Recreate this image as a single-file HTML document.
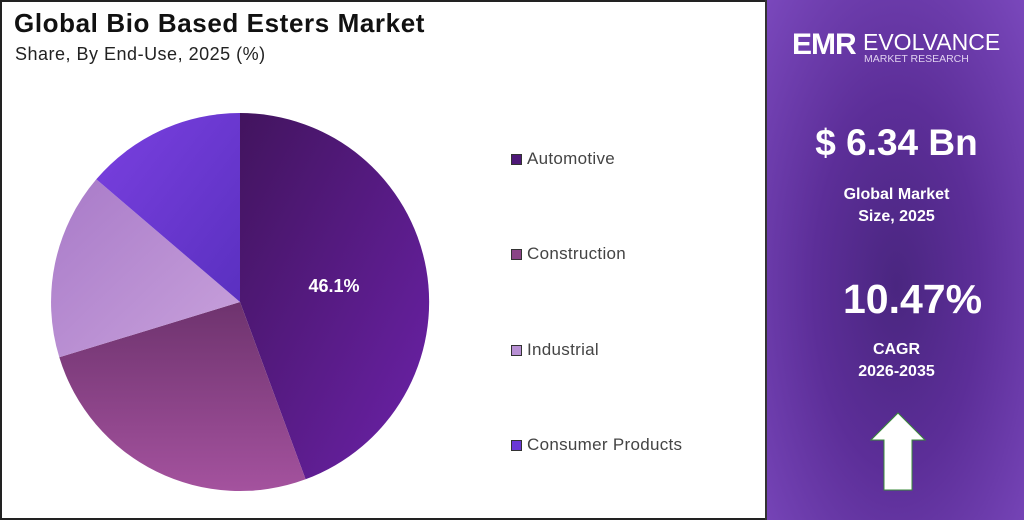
<!DOCTYPE html>
<html><head><meta charset="utf-8"><style>
body{margin:0;width:1024px;height:520px;overflow:hidden;background:#fff;font-family:"Liberation Sans",sans-serif;position:relative}
.frame{position:absolute;left:0;top:0;width:1020px;height:516px;border:2px solid #222}
.right{position:absolute;left:765px;top:0;width:259px;height:520px;background:radial-gradient(ellipse at 50% 55%,#4a2680 0%,#5c2e98 45%,#7a48bc 100%);border-left:2px solid #333}
.t{position:absolute;color:#fff;font-weight:bold;text-align:center;white-space:nowrap}
.leg{position:absolute;left:511px;font-size:17px;color:#444;letter-spacing:0.3px}
.leg i{display:inline-block;width:11px;height:11px;margin-right:5px;vertical-align:-1px;border:1px solid #333;box-sizing:border-box}
</style></head><body>
<div class="frame"></div>
<div style="position:absolute;left:14px;top:8px;font-size:26px;font-weight:bold;color:#111;letter-spacing:0.6px">Global Bio Based Esters Market</div>
<div style="position:absolute;left:15px;top:44px;font-size:18px;color:#222;letter-spacing:0.5px">Share, By End-Use, 2025 (%)</div>
<svg width="1024" height="520" style="position:absolute;left:0;top:0">
<defs>
<linearGradient id="a" x1="0" y1="0" x2="1" y2="1"><stop offset="0" stop-color="#42145e"/><stop offset="1" stop-color="#6c22aa"/></linearGradient>
<linearGradient id="b" x1="0" y1="0" x2="0" y2="1"><stop offset="0" stop-color="#6e336e"/><stop offset="1" stop-color="#a4529e"/></linearGradient>
<linearGradient id="c" x1="0" y1="0" x2="1" y2="1"><stop offset="0" stop-color="#a87ac8"/><stop offset="1" stop-color="#c9a2dc"/></linearGradient>
<linearGradient id="d" x1="0" y1="0" x2="1" y2="1"><stop offset="0" stop-color="#7a40e0"/><stop offset="1" stop-color="#5a30c0"/></linearGradient>
</defs>
<path d="M240,302 L240,113 A189,189 0 0 1 305.6,479.3 Z" fill="url(#a)"/>
<path d="M240,302 L305.6,479.3 A189,189 0 0 1 59.3,357.3 Z" fill="url(#b)"/>
<path d="M240,302 L59.3,357.3 A189,189 0 0 1 96.3,179.3 Z" fill="url(#c)"/>
<path d="M240,302 L96.3,179.3 A189,189 0 0 1 240,113 Z" fill="url(#d)"/>
<text x="334" y="292" fill="#fff" font-size="18" font-weight="bold" text-anchor="middle" font-family="Liberation Sans">46.1%</text>
</svg>
<div class="leg" style="top:149px"><i style="background:#4e1878"></i>Automotive</div>
<div class="leg" style="top:244px"><i style="background:#8a4486"></i>Construction</div>
<div class="leg" style="top:340px"><i style="background:#b890d4"></i>Industrial</div>
<div class="leg" style="top:435px"><i style="background:#6a38d6"></i>Consumer Products</div>
<div class="right">
<div class="t" style="left:25px;top:28px;font-size:30px;letter-spacing:-1px">EMR</div>
<div class="t" style="left:96px;top:29px;font-size:23px;font-weight:normal">EVOLVANCE</div>
<div class="t" style="left:97px;top:53px;font-size:10.5px;font-weight:normal;color:#e0d0f0">MARKET RESEARCH</div>
<div class="t" style="left:0;width:259px;top:122px;font-size:37px">$ 6.34 Bn</div>
<div class="t" style="left:0;width:259px;top:184px;font-size:16px;line-height:22px">Global Market<br>Size, 2025</div>
<div class="t" style="left:16px;width:259px;top:276px;font-size:41px">10.47%</div>
<div class="t" style="left:0;width:259px;top:339px;font-size:16px;line-height:22px">CAGR<br>2026-2035</div>
<svg style="position:absolute;left:0;top:0" width="259" height="520"><polygon points="131,413 158,440 145,440 145,490 117,490 117,440 104,440" fill="#fff" stroke="#3a8a3a" stroke-width="1"/></svg>
</div>
</body></html>
